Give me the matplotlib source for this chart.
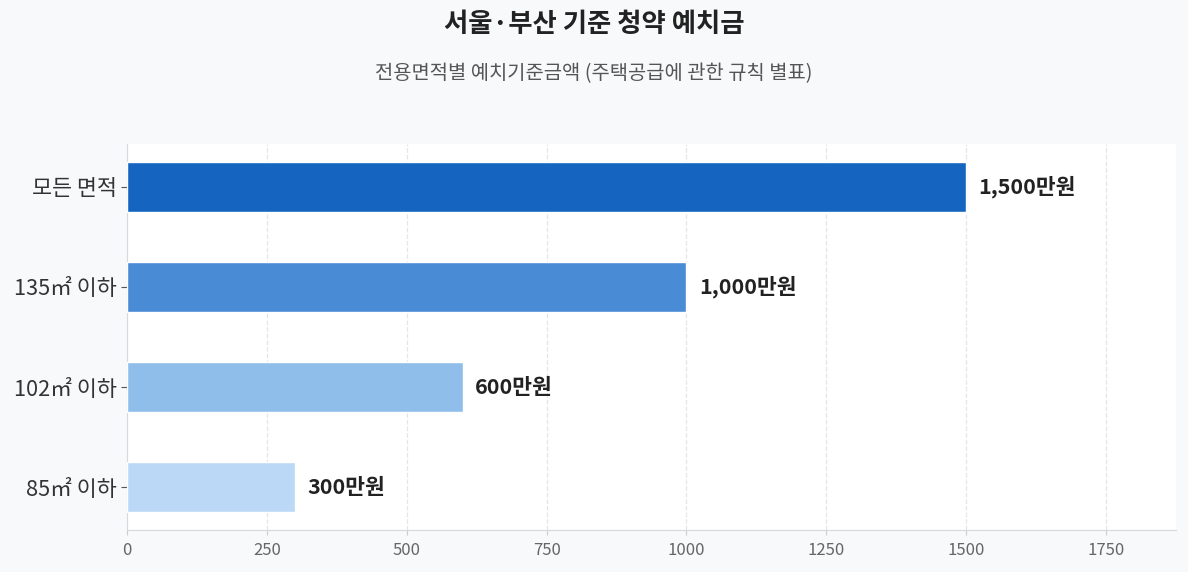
import matplotlib.pyplot as plt

plt.rcParams['font.family'] = ['Noto Sans CJK KR', 'DejaVu Sans']

categories = ["85㎡ 이하", "102㎡ 이하", "135㎡ 이하", "모든 면적"]
values = [300, 600, 1000, 1500]
value_labels = ["300만원", "600만원", "1,000만원", "1,500만원"]
colors = ["#BBD9F6", "#90BEEA", "#4A8BD5", "#1565C0"]

fig = plt.figure(figsize=(11.88, 5.72), dpi=100, facecolor="#F8F9FB")
ax = fig.add_axes([127 / 1188, 1 - 530 / 572, (1176 - 127) / 1188, (530 - 144) / 572])
ax.set_facecolor("white")

ax.barh(categories, values, height=0.5, color=colors, edgecolor="white", linewidth=1, zorder=3)
for i, (v, lab) in enumerate(zip(values, value_labels)):
    ax.text(v + 22, i, lab, va="center", ha="left", fontsize=15.5, fontweight="bold", color="#222222", zorder=4)

ax.set_xlim(0, 1875)
ax.set_xticks([0, 250, 500, 750, 1000, 1250, 1500, 1750])
ax.grid(axis="x", linestyle="--", color="#E6E6E6", linewidth=0.9, zorder=0)
ax.tick_params(axis="x", labelsize=12, labelcolor="#666666", color="#CCCCCC", pad=5)
ax.tick_params(axis="y", labelsize=15.7, labelcolor="#333333", color="#555555", length=4)
for s in ["top", "right"]:
    ax.spines[s].set_visible(False)
for s in ["left", "bottom"]:
    ax.spines[s].set_color("#D5D8DD")

fig.text(0.5, 1 - 25 / 572, "서울·부산 기준 청약 예치금", ha="center", va="center",
         fontsize=19, fontweight="bold", color="#222222")
fig.text(0.5, 1 - 74 / 572, "전용면적별 예치기준금액 (주택공급에 관한 규칙 별표)", ha="center", va="center",
         fontsize=14.3, color="#555555")

plt.savefig("out.png", facecolor=fig.get_facecolor())
